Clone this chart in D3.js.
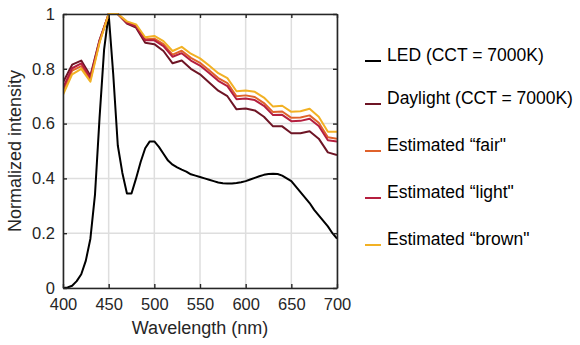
<!DOCTYPE html>
<html>
<head>
<meta charset="utf-8">
<script src="https://cdn.jsdelivr.net/npm/d3@7/dist/d3.min.js"></script>
<style>
  html, body { margin: 0; padding: 0; background: #fff; }
  svg { display: block; font-family: Arial, "Liberation Sans", sans-serif; }
</style>
</head>
<body>
<div id="chart"></div>
<script>
// wavelength grids (nm)
var wl10 = d3.range(400, 701, 10);
var wl5 = d3.range(400, 701, 5);

// LED (CCT = 7000K), 5 nm steps
var led = [0.0, 0.002, 0.008, 0.025, 0.05, 0.10, 0.18, 0.34, 0.62, 0.87, 1.0,
  0.78, 0.52, 0.42, 0.345, 0.345, 0.40, 0.46, 0.51, 0.535, 0.535, 0.515, 0.49,
  0.465, 0.45, 0.44, 0.432, 0.425, 0.415, 0.41, 0.405, 0.40, 0.395, 0.39, 0.385,
  0.382, 0.381, 0.381, 0.383, 0.386, 0.39, 0.396, 0.402, 0.408, 0.413, 0.416,
  0.417, 0.416, 0.41, 0.40, 0.39, 0.37, 0.35, 0.33, 0.31, 0.285, 0.265, 0.245,
  0.225, 0.20, 0.18];

// 10 nm steps
var daylight = [0.75, 0.815, 0.83, 0.775, 0.905, 1.0, 1.0, 0.965, 0.95, 0.895,
  0.89, 0.865, 0.82, 0.83, 0.80, 0.78, 0.75, 0.72, 0.70, 0.652, 0.655, 0.648,
  0.625, 0.59, 0.59, 0.565, 0.565, 0.572, 0.545, 0.495, 0.485];
var fair = [0.72, 0.793, 0.81, 0.761, 0.899, 1.0, 1.0, 0.97, 0.958, 0.908,
  0.91, 0.89, 0.852, 0.866, 0.84, 0.822, 0.795, 0.766, 0.748, 0.70, 0.703,
  0.697, 0.675, 0.642, 0.644, 0.621, 0.622, 0.63, 0.603, 0.55, 0.545];
var light = [0.73, 0.802, 0.82, 0.767, 0.902, 1.0, 1.0, 0.968, 0.955, 0.904,
  0.904, 0.883, 0.844, 0.857, 0.83, 0.812, 0.785, 0.756, 0.737, 0.689, 0.692,
  0.686, 0.665, 0.631, 0.632, 0.609, 0.61, 0.618, 0.591, 0.539, 0.535];
var brown = [0.705, 0.78, 0.80, 0.753, 0.895, 1.0, 1.0, 0.973, 0.962, 0.915,
  0.92, 0.901, 0.865, 0.88, 0.855, 0.838, 0.812, 0.784, 0.766, 0.718, 0.721,
  0.716, 0.695, 0.662, 0.665, 0.643, 0.645, 0.654, 0.625, 0.57, 0.57];

var xTicks = [400, 450, 500, 550, 600, 650, 700];
var yTicks = [0, 0.2, 0.4, 0.6, 0.8, 1];
var yTickLabels = ['0', '0.2', '0.4', '0.6', '0.8', '1'];

var seriesNames = ['LED (CCT = 7000K)', 'Daylight (CCT = 7000K)', 'Estimated \u201cfair"',
  'Estimated \u201clight"', 'Estimated \u201cbrown"'];
var seriesColors = ['#000000', '#6e1525', '#e0622b', '#b51f3f', '#f2b124'];

var W = 580, H = 345;
var m = { left: 63, top: 14, right: 337, bottom: 288 };

var svg = d3.select('#chart').append('svg').attr('width', W).attr('height', H);

var x = d3.scaleLinear().domain([400, 700]).range([m.left, m.right]);
var y = d3.scaleLinear().domain([0, 1]).range([m.bottom, m.top]);

// grid
var grid = svg.append('g');
xTicks.forEach(function (t) {
  grid.append('line').attr('x1', x(t)).attr('x2', x(t)).attr('y1', m.top).attr('y2', m.bottom)
    .attr('stroke', '#dedede').attr('stroke-width', 1.5);
});
yTicks.forEach(function (t) {
  grid.append('line').attr('x1', m.left).attr('x2', m.right).attr('y1', y(t)).attr('y2', y(t))
    .attr('stroke', '#dedede').attr('stroke-width', 1.5);
});

// clip for the data lines
svg.append('clipPath').attr('id', 'clip').append('rect')
  .attr('x', m.left).attr('y', m.top - 2).attr('width', m.right - m.left).attr('height', m.bottom - m.top + 2);

var line10 = d3.line().x(function (d, i) { return x(wl10[i]); }).y(function (d) { return y(d); });
var line5 = d3.line().x(function (d, i) { return x(wl5[i]); }).y(function (d) { return y(d); });

var lines = svg.append('g').attr('clip-path', 'url(#clip)');
lines.append('path').datum(led).attr('d', line5)
  .attr('fill', 'none').attr('stroke', seriesColors[0]).attr('stroke-width', 2).attr('stroke-linejoin', 'round');
[daylight, fair, light, brown].forEach(function (s, i) {
  lines.append('path').datum(s).attr('d', line10)
    .attr('fill', 'none').attr('stroke', seriesColors[i + 1]).attr('stroke-width', 2)
    .attr('stroke-linejoin', 'round');
});

// axes (box with inward ticks)
var axCol = '#262626';
var xb = svg.append('g').attr('transform', 'translate(0,' + m.bottom + ')')
  .call(d3.axisBottom(x).tickValues(xTicks).tickSizeInner(-4).tickSizeOuter(0).tickPadding(10));
var xt = svg.append('g').attr('transform', 'translate(0,' + m.top + ')')
  .call(d3.axisTop(x).tickValues(xTicks).tickSizeInner(-4).tickSizeOuter(0).tickFormat(''));
var yl = svg.append('g').attr('transform', 'translate(' + m.left + ',0)')
  .call(d3.axisLeft(y).tickValues(yTicks).tickSizeInner(-4).tickSizeOuter(0).tickPadding(8)
    .tickFormat(function (d, i) { return yTickLabels[i]; }));
var yr = svg.append('g').attr('transform', 'translate(' + m.right + ',0)')
  .call(d3.axisRight(y).tickValues(yTicks).tickSizeInner(-4).tickSizeOuter(0).tickFormat(''));

[xb, xt, yl, yr].forEach(function (g) {
  g.select('.domain').attr('stroke', axCol).attr('stroke-width', 1.6);
  g.selectAll('.tick line').attr('stroke', axCol).attr('stroke-width', 1.4);
  g.selectAll('.tick text').attr('fill', axCol).style('font-size', '16.5px')
    .style('font-family', 'Arial, "Liberation Sans", sans-serif');
});
xb.selectAll('.tick text').attr('dy', '0.71em');

// axis titles
svg.append('text').attr('x', (m.left + m.right) / 2).attr('y', 334)
  .attr('text-anchor', 'middle').attr('fill', axCol).style('font-size', '18px')
  .text('Wavelength (nm)');
svg.append('text').attr('transform', 'translate(21,' + ((m.top + m.bottom) / 2) + ') rotate(-90)')
  .attr('text-anchor', 'middle').attr('fill', axCol).style('font-size', '18px')
  .text('Normalized intensity');

// legend
var legY = [55, 98, 145, 192, 239];
var leg = svg.append('g');
seriesNames.forEach(function (name, i) {
  leg.append('line').attr('x1', 365).attr('x2', 381).attr('y1', legY[i] + 6).attr('y2', legY[i] + 6)
    .attr('stroke', seriesColors[i]).attr('stroke-width', 2);
  leg.append('text').attr('x', 387).attr('y', legY[i]).attr('dy', '0.35em')
    .attr('fill', '#000').style('font-size', '17.5px').text(name);
});
</script>
</body>
</html>
